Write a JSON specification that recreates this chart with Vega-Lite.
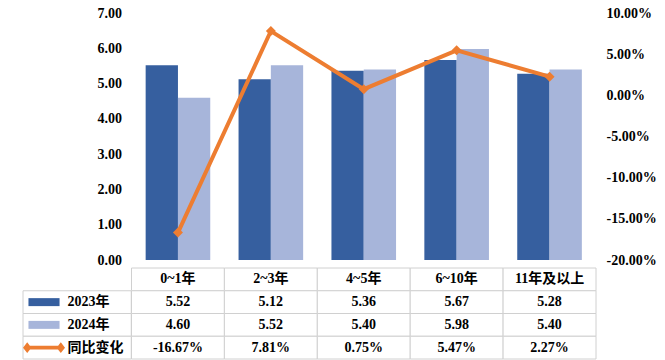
{
  "$schema": "https://vega.github.io/schema/vega-lite/v6.json",
  "padding": {"left": 22, "top": 6, "right": 5, "bottom": 5},
  "background": "white",
  "config": {
    "view": {"stroke": null},
    "locale": {"number": {"decimal": ".", "thousands": ",", "grouping": [3], "currency": ["$", ""], "minus": "-"}},
    "axis": {"labelFont": "Liberation Serif, Noto Sans CJK SC", "labelFontSize": 14, "labelFontWeight": "bold", "labelColor": "#000000"},
    "text": {"font": "Liberation Serif, Noto Sans CJK SC", "fontSize": 14, "fontWeight": "bold", "color": "#000000", "baseline": "middle"}
  },
  "datasets": {
    "main": [
      {"cat": "0~1年", "2023年": 5.52, "2024年": 4.60, "同比变化": -0.1667},
      {"cat": "2~3年", "2023年": 5.12, "2024年": 5.52, "同比变化": 0.0781},
      {"cat": "4~5年", "2023年": 5.36, "2024年": 5.40, "同比变化": 0.0075},
      {"cat": "6~10年", "2023年": 5.67, "2024年": 5.98, "同比变化": 0.0547},
      {"cat": "11年及以上", "2023年": 5.28, "2024年": 5.40, "同比变化": 0.0227}
    ]
  },
  "spacing": 0,
  "resolve": {"scale": {"x": "independent", "y": "independent", "color": "independent", "shape": "independent"}},
  "vconcat": [
    {
      "width": 573,
      "height": 247,
      "data": {"name": "main"},
      "layer": [
        {
          "transform": [{"fold": ["2023年", "2024年"], "as": ["series", "value"]}],
          "mark": {"type": "bar"},
          "encoding": {
            "x": {"field": "cat", "type": "nominal", "scale": {"domain": ["0~1年", "2~3年", "4~5年", "6~10年", "11年及以上"], "paddingInner": 0, "paddingOuter": 0.584, "align": 1}, "axis": null},
            "xOffset": {"field": "series", "type": "nominal", "scale": {"paddingInner": 0, "paddingOuter": 0.438}},
            "y": {"field": "value", "type": "quantitative", "scale": {"domain": [0, 7], "nice": false, "zero": true},
              "axis": {"orient": "left", "offset": -108.5, "values": [0, 1, 2, 3, 4, 5, 6, 7], "format": ".2f", "domain": false, "ticks": false, "grid": false, "labelPadding": 10, "title": null}},
            "color": {"field": "series", "type": "nominal", "scale": {"domain": ["2023年", "2024年"], "range": ["#365F9F", "#A7B5DA"]}, "legend": null}
          }
        },
        {
          "encoding": {
            "x": {"field": "cat", "type": "nominal", "scale": {"domain": ["0~1年", "2~3年", "4~5年", "6~10年", "11年及以上"], "paddingInner": 0, "paddingOuter": 0.584, "align": 1}, "axis": null},
            "y": {"field": "同比变化", "type": "quantitative", "scale": {"domain": [-0.2, 0.1], "nice": false, "zero": false},
              "axis": {"orient": "right", "values": [-0.2, -0.15, -0.1, -0.05, 0, 0.05, 0.1], "format": ".2%", "domain": false, "ticks": false, "grid": false, "labelPadding": 10, "title": null}}
          },
          "layer": [
            {"mark": {"type": "line", "color": "#ED7D31", "strokeWidth": 4}},
            {"mark": {"type": "point", "shape": "diamond", "filled": true, "size": 100, "color": "#ED7D31", "opacity": 1}}
          ]
        }
      ],
      "resolve": {"scale": {"y": "independent"}}
    },
    {
      "width": 573,
      "height": 91,
      "layer": [
        {
          "data": {"values": [{"label": "2023年"}, {"label": "2024年"}, {"label": "同比变化"}]},
          "encoding": {
            "y": {"field": "label", "type": "nominal", "scale": {"domain": ["类别", "2023年", "2024年", "同比变化"], "paddingInner": 0, "paddingOuter": 0}, "axis": null}
          },
          "layer": [
            {
              "mark": {"type": "rect", "fill": "white", "stroke": "#D0D0D0", "strokeWidth": 1},
              "encoding": {"x": {"datum": "图例", "type": "nominal", "scale": {"domain": ["图例"], "paddingInner": 0.534, "paddingOuter": 1, "align": 0}, "axis": null}}
            },
            {
              "mark": {"type": "point", "filled": true, "opacity": 1, "size": 1764, "strokeWidth": 0},
              "encoding": {
                "x": {"datum": "图例", "type": "nominal", "bandPosition": 0.194},
                "shape": {"field": "label", "type": "nominal", "scale": {"domain": ["2023年", "2024年", "同比变化"], "range": ["M-0.74,-0.19H0.74V0.19H-0.74Z", "M-0.74,-0.19H0.74V0.19H-0.74Z", "M-1,0L-0.8,-0.26L-0.6,0L-0.8,0.26Z M0.6,0L0.8,-0.26L1,0L0.8,0.26Z M-0.8,-0.095H0.8V0.095H-0.8Z"]}, "legend": null},
                "color": {"field": "label", "type": "nominal", "scale": {"domain": ["2023年", "2024年", "同比变化"], "range": ["#365F9F", "#A7B5DA", "#ED7D31"]}, "legend": null}
              }
            },
            {
              "mark": {"type": "text", "align": "left"},
              "encoding": {
                "x": {"datum": "图例", "type": "nominal", "bandPosition": 0.41},
                "text": {"field": "label", "type": "nominal"}
              }
            }
          ]
        },
        {
          "data": {"name": "main"},
          "encoding": {
            "x": {"field": "cat", "type": "nominal", "scale": {"domain": ["0~1年", "2~3年", "4~5年", "6~10年", "11年及以上"], "paddingInner": 0, "paddingOuter": 0.584, "align": 1}, "axis": null}
          },
          "layer": [
            {
              "mark": {"type": "rect", "fill": "white", "stroke": "#D0D0D0", "strokeWidth": 1},
              "encoding": {"y": {"datum": "类别", "type": "nominal"}}
            },
            {
              "mark": {"type": "text"},
              "encoding": {"y": {"datum": "类别", "type": "nominal"}, "text": {"field": "cat", "type": "nominal"}}
            },
            {
              "transform": [{"fold": ["2023年", "2024年", "同比变化"], "as": ["row", "v"]}],
              "mark": {"type": "rect", "fill": "white", "stroke": "#D0D0D0", "strokeWidth": 1},
              "encoding": {"y": {"field": "row", "type": "nominal"}}
            },
            {
              "transform": [{"fold": ["2023年", "2024年"], "as": ["row", "v"]}],
              "mark": {"type": "text"},
              "encoding": {"y": {"field": "row", "type": "nominal"}, "text": {"field": "v", "type": "quantitative", "format": ".2f"}}
            },
            {
              "mark": {"type": "text"},
              "encoding": {"y": {"datum": "同比变化", "type": "nominal"}, "text": {"field": "同比变化", "type": "quantitative", "format": ".2%"}}
            }
          ]
        }
      ],
      "resolve": {"scale": {"x": "independent", "color": "independent"}}
    }
  ]
}
